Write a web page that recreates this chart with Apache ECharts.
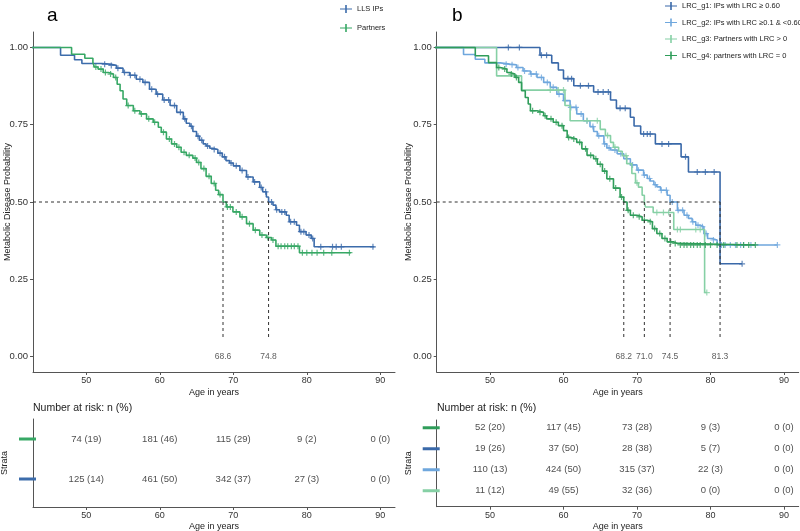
<!DOCTYPE html>
<html><head><meta charset="utf-8">
<script src="https://cdn.jsdelivr.net/npm/echarts/dist/echarts.min.js"></script>
<style>html,body{margin:0;padding:0;background:#fff}#c{width:800px;height:531px}</style>
</head><body><div id="c"></div>
<script>
// ---------- DATA ----------
const xTicks = [50, 60, 70, 80, 90];
const yTicks = [0, 0.25, 0.5, 0.75, 1];

// Panel a
const aIPsName = 'LLS IPs';
const aIPsAge  = [40, 46.5, 48.4, 49.4, 52.1, 53.2, 54.1, 55.0, 55.9, 56.8, 57.7, 58.6, 59.5, 60.4, 61.4, 62.3, 63.2, 63.6, 64.1, 64.5, 65.0, 65.4, 65.9, 66.3, 66.8, 67.2, 67.9, 68.5, 69.0, 69.5, 70.0, 70.9, 71.8, 72.7, 73.6, 74.0, 74.5, 74.8, 75.4, 75.8, 76.3, 77.2, 77.6, 78.6, 79.0, 79.9, 80.6, 81.0, 89.2];
const aIPsSurv = [1, 0.975, 0.960, 0.948, 0.946, 0.942, 0.933, 0.919, 0.910, 0.897, 0.887, 0.865, 0.849, 0.830, 0.812, 0.790, 0.769, 0.755, 0.745, 0.728, 0.713, 0.700, 0.688, 0.681, 0.674, 0.670, 0.658, 0.646, 0.634, 0.626, 0.617, 0.602, 0.581, 0.565, 0.547, 0.533, 0.516, 0.500, 0.490, 0.475, 0.468, 0.457, 0.436, 0.425, 0.404, 0.393, 0.382, 0.355, 0.355];
const aIPsCens = [52.5, 53.4, 54.3, 55.2, 56.0, 56.6, 57.3, 58.0, 58.9, 59.7, 60.6, 61.2, 62.0, 62.8, 63.4, 64.3, 65.2, 65.7, 66.5, 67.4, 68.2, 68.8, 69.7, 70.4, 71.2, 72.0, 72.9, 73.8, 74.4, 75.2, 75.9, 76.6, 77.0, 77.8, 78.3, 79.2, 79.6, 80.3, 80.8, 81.9, 83.5, 84.0, 84.7, 89.0];

const aPartName = 'Partners';
const aPartAge  = [40, 48.0, 49.8, 50.9, 51.1, 51.6, 52.3, 53.0, 53.7, 54.2, 54.6, 55.0, 55.5, 56.4, 57.3, 58.2, 59.1, 59.8, 60.2, 60.9, 61.6, 62.3, 62.9, 63.6, 64.5, 65.0, 65.6, 66.3, 67.0, 67.6, 68.0, 68.6, 69.05, 69.95, 70.9, 71.8, 72.7, 73.6, 74.5, 75.2, 75.8, 79.0, 86.0];
const aPartSurv = [1, 0.978, 0.965, 0.951, 0.937, 0.930, 0.919, 0.914, 0.903, 0.881, 0.860, 0.833, 0.812, 0.795, 0.785, 0.769, 0.758, 0.742, 0.726, 0.704, 0.688, 0.677, 0.661, 0.651, 0.642, 0.628, 0.608, 0.583, 0.560, 0.538, 0.524, 0.500, 0.484, 0.468, 0.452, 0.430, 0.409, 0.393, 0.385, 0.377, 0.357, 0.336, 0.336];
const aPartCens = [51.3, 52.0, 52.6, 53.3, 54.0, 55.7, 56.6, 57.5, 58.5, 59.3, 60.5, 61.3, 62.0, 62.6, 63.3, 64.0, 64.8, 65.3, 66.0, 66.7, 67.4, 68.2, 69.2, 69.6, 70.4, 71.2, 72.2, 73.0, 73.9, 74.7, 75.4, 76.1, 76.5, 77.0, 77.4, 77.9, 78.3, 78.8, 79.4, 80.0, 80.7, 81.4, 82.3, 83.4, 85.8];

const aMedians = [68.6, 74.8];

// Panel b
const bG1Name = 'LRC_g1: IPs with LRC \u2265 0.60';
const bG1Age  = [40, 56.8, 58.4, 59.3, 60.0, 61.4, 64.1, 66.4, 67.2, 69.1, 69.6, 70.5, 72.5, 76.0, 77.0, 81.3, 84.3];
const bG1Surv = [1, 0.975, 0.950, 0.927, 0.899, 0.876, 0.856, 0.830, 0.803, 0.774, 0.746, 0.720, 0.688, 0.646, 0.597, 0.300, 0.300];
const bG1Cens = [52.5, 54.0, 57.0, 57.7, 60.6, 61.1, 62.3, 63.4, 64.7, 65.4, 66.1, 67.7, 68.4, 70.9, 71.4, 71.8, 73.4, 74.3, 76.6, 78.2, 79.3, 80.5, 84.3];

const bG2Name = 'LRC_g2: IPs with LRC \u22650.1 & <0.60';
const bG2Age  = [40, 46.4, 48.0, 49.3, 51.4, 52.7, 53.6, 54.5, 55.5, 56.4, 57.3, 58.2, 59.1, 60.0, 60.9, 61.8, 62.7, 63.6, 64.1, 64.6, 65.5, 65.9, 66.4, 67.3, 68.2, 69.1, 70.0, 70.9, 71.4, 71.8, 72.3, 72.7, 73.2, 74.1, 74.5, 75.5, 76.4, 77.0, 77.5, 78.0, 78.6, 79.1, 79.6, 80.2, 80.9, 89.1];
const bG2Surv = [1, 0.977, 0.962, 0.950, 0.946, 0.944, 0.935, 0.924, 0.914, 0.903, 0.887, 0.871, 0.849, 0.828, 0.806, 0.785, 0.763, 0.744, 0.728, 0.714, 0.688, 0.675, 0.668, 0.656, 0.640, 0.620, 0.603, 0.587, 0.576, 0.568, 0.556, 0.549, 0.538, 0.522, 0.500, 0.473, 0.457, 0.447, 0.436, 0.425, 0.420, 0.398, 0.382, 0.377, 0.361, 0.361];
const bG2Cens = [52.2, 53.0, 53.8, 54.7, 55.6, 56.3, 57.0, 57.8, 58.6, 59.4, 60.2, 61.0, 61.7, 62.4, 63.2, 64.0, 64.8, 65.6, 66.2, 67.0, 67.8, 68.6, 69.4, 70.2, 71.0, 71.7, 72.5, 73.3, 74.0, 74.8, 75.6, 76.2, 76.8, 77.6, 78.3, 78.9, 79.4, 80.4, 81.5, 82.0, 82.7, 83.4, 84.1, 84.5, 85.5, 89.1];

const bG3Name = 'LRC_g3: Partners with LRC > 0';
const bG3Age  = [40, 50.9, 54.3, 60.2, 60.9, 65.0, 65.7, 66.4, 66.8, 67.5, 68.0, 68.6, 69.3, 69.8, 70.2, 70.7, 71.0, 71.15, 72.2, 75.0, 79.2, 79.5];
const bG3Surv = [1, 0.908, 0.862, 0.812, 0.763, 0.735, 0.715, 0.693, 0.677, 0.664, 0.650, 0.624, 0.592, 0.562, 0.548, 0.522, 0.500, 0.484, 0.466, 0.411, 0.207, 0.207];
const bG3Cens = [58.2, 59.3, 60.0, 63.2, 64.6, 66.0, 67.0, 68.5, 70.0, 72.7, 73.6, 74.3, 75.5, 75.9, 78.0, 78.6, 79.5];

const bG4Name = 'LRC_g4: partners with LRC = 0';
const bG4Age  = [40, 48.0, 49.8, 50.9, 51.4, 52.3, 52.7, 53.4, 53.9, 54.3, 54.8, 55.2, 55.5, 56.4, 57.3, 57.7, 58.6, 59.3, 60.0, 60.5, 60.9, 61.8, 62.5, 63.2, 64.1, 64.6, 65.3, 65.9, 66.8, 67.7, 68.2, 68.65, 69.1, 70.0, 70.7, 71.4, 72.1, 72.7, 73.4, 74.1, 75.0, 75.5, 86.1];
const bG4Surv = [1, 0.973, 0.951, 0.935, 0.930, 0.919, 0.914, 0.903, 0.887, 0.860, 0.838, 0.817, 0.795, 0.790, 0.779, 0.769, 0.758, 0.747, 0.731, 0.709, 0.704, 0.693, 0.672, 0.651, 0.640, 0.622, 0.600, 0.575, 0.545, 0.516, 0.500, 0.473, 0.457, 0.452, 0.441, 0.436, 0.414, 0.398, 0.382, 0.371, 0.366, 0.361, 0.361];
const bG4Cens = [51.2, 52.0, 52.9, 53.6, 55.8, 56.8, 57.5, 58.3, 59.0, 59.8, 60.7, 61.4, 62.2, 63.0, 63.7, 64.4, 65.0, 65.6, 66.3, 67.1, 67.9, 68.8, 69.5, 70.3, 71.0, 71.8, 72.4, 73.1, 73.8, 74.6, 75.2, 75.9, 76.4, 76.8, 77.3, 77.7, 78.2, 78.6, 79.3, 80.0, 80.9, 81.8, 83.6, 84.5, 85.2, 86.1];

const bMedians = [68.2, 71.0, 74.5, 81.3];

// Risk tables: n and (%)
const riskAPartN = [74, 181, 115, 9, 0],  riskAPartP = [19, 46, 29, 2, 0];
const riskAIPsN  = [125, 461, 342, 27, 0], riskAIPsP = [14, 50, 37, 3, 0];
const riskBG4N = [52, 117, 73, 9, 0],  riskBG4P = [20, 45, 28, 3, 0];
const riskBG1N = [19, 37, 28, 5, 0],   riskBG1P = [26, 50, 38, 7, 0];
const riskBG2N = [110, 424, 315, 22, 0], riskBG2P = [13, 50, 37, 3, 0];
const riskBG3N = [11, 49, 32, 0, 0],   riskBG3P = [12, 55, 36, 0, 0];

// ---------- STYLE ----------
const FONT = 'Liberation Sans, Arial, Helvetica, sans-serif';
const C_BLUE = '#3C6CAB', C_GREEN = '#37A865';
const C_G1 = '#3A69A9', C_G2 = '#6FA7DD', C_G3 = '#86D0A5', C_G4 = '#2F9D5A';
const AX = '#555';
const xMin = 42.75, xMax = 92.0;
const PLUS = 'path://M4,0H6V4H10V6H6V10H4V6H0V4H4Z';
const LEG_ICON = 'path://M0,4.4H5.2V1H6.8V4.4H12V5.6H6.8V9H5.2V5.6H0Z';

function survAt(ages, surv, t) {
  let s = surv[0];
  for (let i = 0; i < ages.length; i++) { if (ages[i] <= t) s = surv[i]; else break; }
  return s;
}
function km(name, ages, surv, cens, color, gi, z) {
  return [
    { type: 'line', name, xAxisIndex: gi, yAxisIndex: gi, step: 'end', symbol: 'none', showSymbol: false,
      data: ages.map((a, i) => [a, surv[i]]), lineStyle: { color, width: 1.6 }, itemStyle: { color },
      z, silent: true, animation: false },
    { type: 'scatter', name, xAxisIndex: gi, yAxisIndex: gi, symbol: PLUS, symbolSize: 6,
      data: cens.map(t => [t, survAt(ages, surv, t)]), itemStyle: { color }, z, silent: true, animation: false }
  ];
}
function medianSeries(meds, gi) {
  const out = [];
  const dash = { color: '#333', width: 1, type: [3, 3] };
  out.push({ type: 'line', xAxisIndex: gi, yAxisIndex: gi, symbol: 'none', data: [[xMin, 0.5], [Math.max(...meds), 0.5]],
    lineStyle: dash, z: 10, silent: true, animation: false });
  meds.forEach(m => out.push({ type: 'line', xAxisIndex: gi, yAxisIndex: gi, symbol: 'none', data: [[m, 0.5], [m, 0.055]],
    lineStyle: dash, z: 10, silent: true, animation: false }));
  out.push({ type: 'scatter', xAxisIndex: gi, yAxisIndex: gi, symbolSize: 1, itemStyle: { color: 'rgba(0,0,0,0)' },
    data: meds.map(m => ({ value: [m, 0], label: { formatter: m.toFixed(1) } })),
    label: { show: true, position: 'inside', fontSize: 8.5, color: '#333', fontFamily: FONT }, silent: true, animation: false });
  return out;
}
function riskSeries(n, p, row, gi) {
  return { type: 'scatter', xAxisIndex: gi, yAxisIndex: gi, symbolSize: 1, itemStyle: { color: 'rgba(0,0,0,0)' },
    data: xTicks.map((x, i) => ({ value: [x, row], label: { formatter: n[i] + ' (' + p[i] + ')' } })),
    label: { show: true, position: 'inside', fontSize: 9.5, color: '#222', fontFamily: FONT }, silent: true, animation: false };
}
function xAxis(gi, gap) {
  return { type: 'value', gridIndex: gi, min: xMin, max: xMax, name: 'Age in years', nameLocation: 'middle', nameGap: gap,
    nameMoveOverlap: false,
    nameTextStyle: { fontSize: 9, color: '#222', fontFamily: FONT },
    axisLine: { show: true, onZero: false, lineStyle: { color: AX, width: 1 } },
    axisTick: { show: true, customValues: xTicks, length: 3, lineStyle: { color: AX } },
    axisLabel: { customValues: xTicks, fontSize: 9, color: '#333', margin: 4, fontFamily: FONT },
    splitLine: { show: false } };
}
function yMain(gi, gap) {
  return { type: 'value', gridIndex: gi, min: -0.05, max: 1.05, name: 'Metabolic Disease Probability', nameLocation: 'middle',
    nameRotate: 90, nameGap: gap, nameMoveOverlap: false, nameTextStyle: { fontSize: 9, color: '#222', fontFamily: FONT },
    axisLine: { show: true, onZero: false, lineStyle: { color: AX, width: 1 } },
    axisTick: { show: true, customValues: yTicks, length: 3, lineStyle: { color: AX } },
    axisLabel: { customValues: yTicks, formatter: v => v.toFixed(2), fontSize: 9.5, color: '#333', margin: 5, fontFamily: FONT },
    splitLine: { show: false } };
}
function yRisk(gi, min, max, rows, colors, gap) {
  const rich = {};
  rows.forEach((r, i) => { rich['s' + r] = { backgroundColor: colors[i], width: 17, height: 3, lineHeight: 3, fontSize: 1 }; });
  return { type: 'value', gridIndex: gi, min, max, name: 'Strata', nameLocation: 'middle', nameRotate: 90, nameGap: gap,
    nameMoveOverlap: false,
    nameTextStyle: { fontSize: 9, color: '#222', fontFamily: FONT },
    axisLine: { show: true, onZero: false, lineStyle: { color: AX, width: 1 } },
    axisTick: { show: false },
    axisLabel: { customValues: rows, formatter: v => '{s' + v + '| }', rich, margin: -3 },
    splitLine: { show: false } };
}

const series = [].concat(
  km(aIPsName, aIPsAge, aIPsSurv, aIPsCens, C_BLUE, 0, 2),
  km(aPartName, aPartAge, aPartSurv, aPartCens, C_GREEN, 0, 3),
  medianSeries(aMedians, 0),
  km(bG1Name, bG1Age, bG1Surv, bG1Cens, C_G1, 1, 2),
  km(bG2Name, bG2Age, bG2Surv, bG2Cens, C_G2, 1, 3),
  km(bG3Name, bG3Age, bG3Surv, bG3Cens, C_G3, 1, 4),
  km(bG4Name, bG4Age, bG4Surv, bG4Cens, C_G4, 1, 5),
  medianSeries(bMedians, 1),
  [riskSeries(riskAPartN, riskAPartP, 2, 2), riskSeries(riskAIPsN, riskAIPsP, 1, 2),
   riskSeries(riskBG4N, riskBG4P, 4, 3), riskSeries(riskBG1N, riskBG1P, 3, 3),
   riskSeries(riskBG2N, riskBG2P, 2, 3), riskSeries(riskBG3N, riskBG3P, 1, 3)]
);

const legendText = { fontSize: 7.5, color: '#222', fontFamily: FONT };
const gridBase = { outerBoundsMode: 'none', containLabel: false };
const option = {
  animation: false,
  backgroundColor: '#fff',
  title: [
    { text: 'a', left: 47, top: 6, padding: 0, textStyle: { fontSize: 19, fontWeight: 'normal', color: '#000', fontFamily: FONT } },
    { text: 'b', left: 452, top: 6, padding: 0, textStyle: { fontSize: 19, fontWeight: 'normal', color: '#000', fontFamily: FONT } },
    { text: 'Number at risk: n (%)', left: 33, top: 403, padding: 0, textStyle: { fontSize: 10.5, fontWeight: 'normal', color: '#222', fontFamily: FONT } },
    { text: 'Number at risk: n (%)', left: 437, top: 403, padding: 0, textStyle: { fontSize: 10.5, fontWeight: 'normal', color: '#222', fontFamily: FONT } }
  ],
  legend: [
    { data: [aIPsName, aPartName], orient: 'vertical', left: 340, top: 5, itemWidth: 12, itemHeight: 9, itemGap: 11,
      icon: LEG_ICON, textStyle: legendText, padding: 0, selectedMode: false },
    { data: [bG1Name, bG2Name, bG3Name, bG4Name], orient: 'vertical', left: 665, top: 2, itemWidth: 12, itemHeight: 9, itemGap: 8.5,
      icon: LEG_ICON, textStyle: legendText, padding: 0, selectedMode: false }
  ],
  grid: [
    Object.assign({ left: 33, top: 32, width: 362, height: 340 }, gridBase),
    Object.assign({ left: 436.7, top: 32, width: 362, height: 340 }, gridBase),
    Object.assign({ left: 33, top: 419, width: 362, height: 88 }, gridBase),
    Object.assign({ left: 436.7, top: 420, width: 362, height: 86.7 }, gridBase)
  ],
  xAxis: [xAxis(0, 16), xAxis(1, 16), xAxis(2, 15), xAxis(3, 15)],
  yAxis: [yMain(0, 21), yMain(1, 23.5),
          yRisk(2, 0.3, 2.5, [1, 2], [C_BLUE, C_GREEN], 23.5),
          yRisk(3, 0.24, 4.37, [1, 2, 3, 4], [C_G3, C_G2, C_G1, C_G4], 24)],
  series
};
const chart = echarts.init(document.getElementById('c'), null, { renderer: 'canvas' });
chart.setOption(option);
</script></body></html>
